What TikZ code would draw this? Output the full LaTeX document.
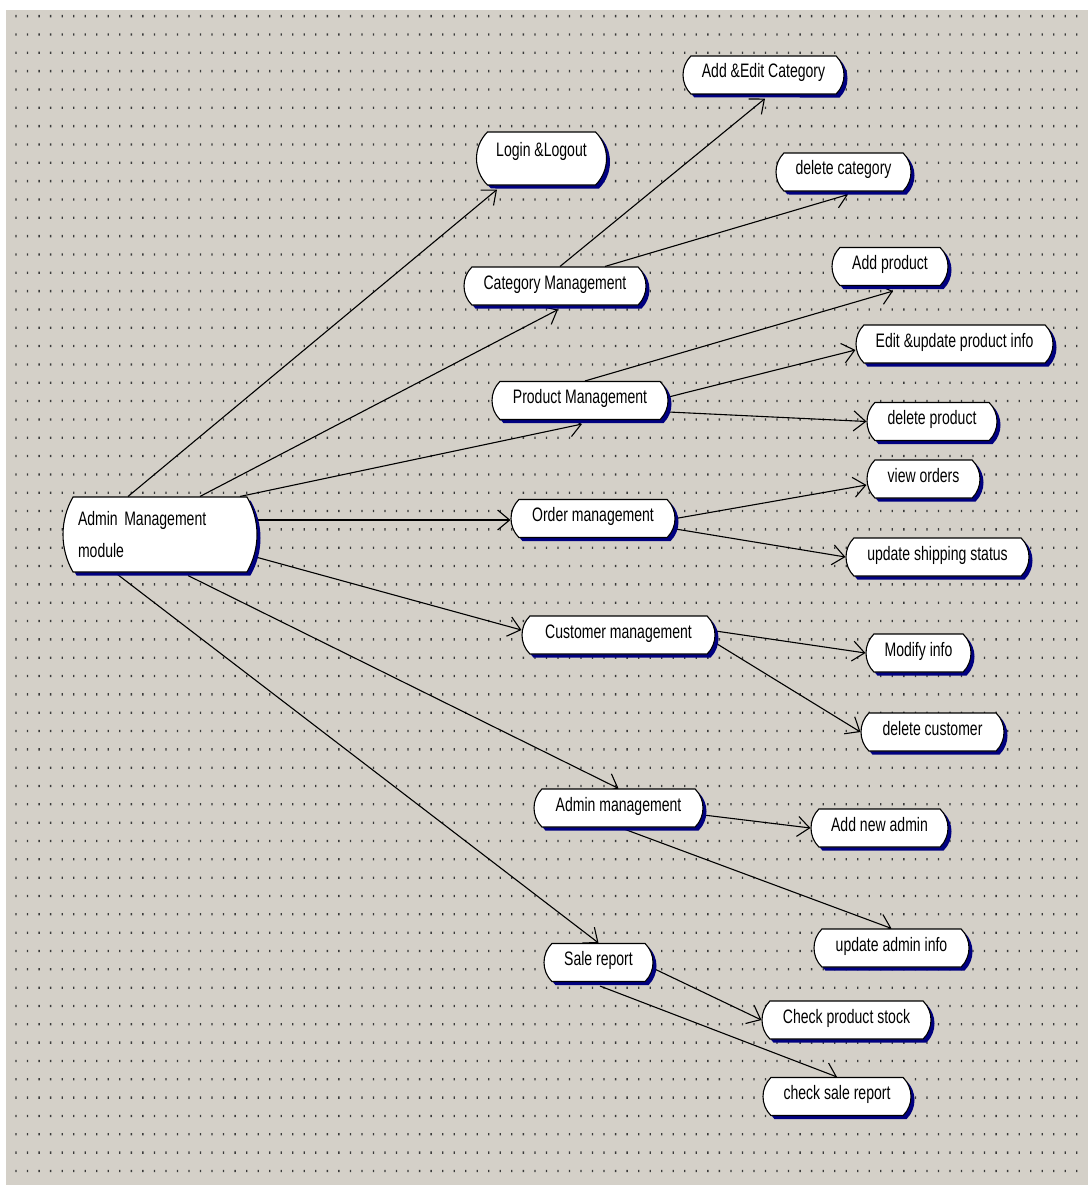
\documentclass[tikz,border=0pt]{standalone}
\usepackage{fontspec}
\usetikzlibrary{shapes.misc,shadows,arrows.meta}
\newfontfamily\actfont[FakeStretch=0.72]{Liberation Sans}
\newcommand\actfnt{\actfont\fontsize{19.5pt}{23pt}\selectfont}
\definecolor{bgc}{HTML}{D4D0C8}
\definecolor{dotc}{HTML}{3A3A3A}
\definecolor{navyc}{HTML}{000080}
\pgfdeclarelayer{edgelayer}
\pgfsetlayers{edgelayer,main}
\begin{document}
\begin{tikzpicture}[x=1pt,y=-1pt,
  act/.style={rounded rectangle, rounded rectangle arc length=90,
    draw=black, line width=1.1pt, fill=white,
    drop shadow={shadow xshift=3.5pt, shadow yshift=-3.5pt, fill=navyc, opacity=1},
    font=\actfnt, text height=14pt, text depth=8pt, inner ysep=8pt, inner xsep=4pt,
    minimum height=38pt},
  conn/.style={draw=black, line width=1.1pt,
    -{Straight Barb[length=12pt,width=20pt,line width=1.1pt]}}]
\useasboundingbox (0,0) rectangle (1088,1185);
% nodes
\node[act, rounded rectangle arc length=60, text height=, text depth=, inner ysep=0pt,
  inner xsep=0pt, text width=164pt, align=left, minimum width=194pt, minimum height=75pt,
  font=\actfont\fontsize{19.5pt}{32pt}\selectfont] (admin) at (160,534.5) {\mbox{Admin Management}\\module};
\node[act, text height=19pt, text depth=22pt, inner ysep=6pt, minimum width=138pt] (login) at (541.5,158.5) {Login \&Logout};
\node[act, minimum width=169pt] (addcat) at (763.5,75) {Add \&Edit Category};
\node[act, minimum width=143pt] (delcat) at (843.5,172) {delete category};
\node[act, minimum width=190pt] (catm) at (555,286) {Category Management};
\node[act, minimum width=124pt] (addp) at (890,266.5) {Add product};
\node[act, minimum width=205pt] (editp) at (954.5,344) {Edit \&update product info};
\node[act, minimum width=184pt] (prodm) at (580,400.5) {Product Management};
\node[act, minimum width=138pt] (delp) at (932,421.5) {delete product};
\node[act, minimum width=121pt] (viewo) at (923.5,479) {view orders};
\node[act, minimum width=172pt] (orderm) at (593,518.5) {Order management};
\node[act, minimum width=191pt] (shipping) at (937.5,557) {update shipping status};
\node[act, minimum width=201pt] (custm) at (618.5,635) {Customer management};
\node[act, minimum width=113pt] (modify) at (918.5,653) {Modify info};
\node[act, minimum width=151pt] (delcust) at (932.5,732) {delete customer};
\node[act, minimum width=177pt] (adminm) at (618.5,808) {Admin management};
\node[act, minimum width=145pt] (addadmin) at (879.5,828) {Add new admin};
\node[act, minimum width=163pt] (updadmin) at (891.5,948) {update admin info};
\node[act, minimum width=117pt] (sale) at (598.5,962.5) {Sale report};
\node[act, minimum width=177pt] (stock) at (846.5,1020) {Check product stock};
\node[act, minimum width=156pt] (checksale) at (837,1096.5) {check sale report};
\begin{pgfonlayer}{edgelayer}
\fill[white] (0,0) rectangle (1088,1185);
\fill[bgc] (6,10) rectangle (1088,1185);
\foreach \j in {0,...,63}{
  \fill[dotc] \foreach \i in {0,...,92}{ (15.4+\i*11.53, 15+\j*18.33) rectangle ++(1.3,2.3) };
}
% connectors
\draw[conn] ([xshift=-32pt]admin.north) -- ([xshift=-44.5pt,yshift=-4pt]login.south);
\draw[conn] ([xshift=40pt]admin.north) -- ([xshift=3pt,yshift=-4pt]catm.south);
\draw[conn] ([xshift=80pt]admin.north) -- ([xshift=2pt,yshift=-4pt]prodm.south);
\draw[conn] ([yshift=14.5pt]admin.east) -- ([yshift=-1.5pt]orderm.west);
\draw[conn] ([yshift=-23pt]admin.east) -- ([yshift=5pt]custm.west);
\draw[conn] ([xshift=28pt,yshift=-3pt]admin.south) -- (adminm.north);
\draw[conn] ([xshift=-45pt]admin.south) -- (sale.north);
\draw[conn] ([xshift=5pt]catm.north) -- ([xshift=1.5pt,yshift=-4pt]addcat.south);
\draw[conn] ([xshift=50pt]catm.north) -- ([xshift=4.5pt,yshift=-3pt]delcat.south);
\draw[conn] ([xshift=5pt]prodm.north) -- ([xshift=3pt,yshift=-5pt]addp.south);
\draw[conn] ([yshift=3.5pt]prodm.east) -- ([yshift=-6pt]editp.west);
\draw[conn] ([yshift=-11.5pt]prodm.east) -- (delp.west);
\draw[conn] (orderm.east) -- ([yshift=-6pt]viewo.west);
\draw[conn] ([yshift=-10.5pt]orderm.east) -- (shipping.west);
\draw[conn] ([yshift=4pt]custm.east) -- (modify.west);
\draw[conn] ([yshift=-8pt]custm.east) -- (delcust.west);
\draw[conn] ([yshift=-7pt]adminm.east) -- (addadmin.west);
\draw[conn] ([xshift=1.5pt]adminm.south) -- (updadmin.north);
\draw[conn] ([yshift=-6pt]sale.east) -- (stock.west);
\draw[conn] ([xshift=1.5pt,yshift=-4pt]sale.south) -- (checksale.north);
\end{pgfonlayer}
\end{tikzpicture}
\end{document}
